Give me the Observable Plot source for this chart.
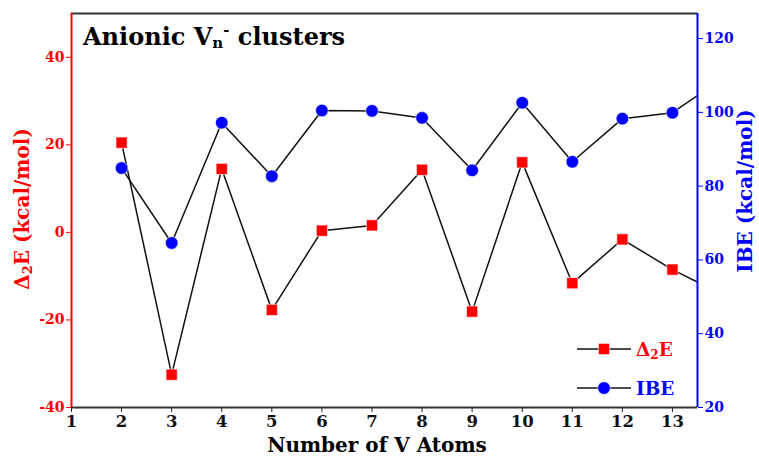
<!DOCTYPE html>
<html>
<head>
<meta charset="utf-8">
<script src="https://cdn.jsdelivr.net/npm/d3@7"></script>
<script src="https://cdn.jsdelivr.net/npm/@observablehq/plot@0.6"></script>
<style>
  html, body { margin: 0; padding: 0; background: #fff; }
  #chart svg { display: block; }
</style>
</head>
<body>
<div id="chart"></div>
<script>
// ---- data ----
const atoms = [2, 3, 4, 5, 6, 7, 8, 9, 10, 11, 12, 13, 14];
const deltaE = [20.5, -32.5, 14.5, -17.7, 0.4, 1.6, 14.3, -18.1, 16.0, -11.6, -1.6, -8.5, -14.2];
const ibe = [84.9, 64.6, 97.2, 82.7, 100.5, 100.4, 98.5, 84.3, 102.6, 86.6, 98.3, 99.9, 109.2];
const xTicks = [1, 2, 3, 4, 5, 6, 7, 8, 9, 10, 11, 12, 13];
const leftTicks = [-40, -20, 0, 20, 40];
const rightTicks = [20, 40, 60, 80, 100, 120];
const leftDomain = [-40, 50];
const rightDomain = [20, 126.8];
const xDomain = [1, 13.5];

// map IBE onto left-axis units
const toLeft = d3.scaleLinear().domain(rightDomain).range(leftDomain);
const fromLeft = toLeft.invert;

const dEData = atoms.map((n, i) => ({n, v: deltaE[i]}));
const ibeData = atoms.map((n, i) => ({n, v: toLeft(ibe[i])}));

const font = "'DejaVu Serif', serif";
const RED = "#ff0000", BLUE = "#0000ff";

const plot = Plot.plot({
  width: 759,
  height: 456,
  marginLeft: 71,
  marginRight: 62,
  marginTop: 13,
  marginBottom: 49,
  style: {fontFamily: font, fontWeight: "bold", fontSize: "15px", background: "#fff"},
  x: {domain: xDomain, label: null},
  y: {domain: leftDomain, label: null},
  marks: [
    Plot.line(dEData, {x: "n", y: "v", stroke: "#111", strokeWidth: 1.5, clip: true}),
    Plot.line(ibeData, {x: "n", y: "v", stroke: "#111", strokeWidth: 1.5, clip: true}),
    Plot.dot(dEData.filter(d => d.n <= 13), {x: "n", y: "v", symbol: "square", r: 6.3, fill: RED, stroke: "#fff", strokeWidth: 0.6}),
    Plot.dot(ibeData.filter(d => d.n <= 13), {x: "n", y: "v", symbol: "circle", r: 6.3, fill: BLUE, stroke: "#fff", strokeWidth: 0.6}),
    Plot.ruleY([leftDomain[1]], {stroke: "#333", strokeWidth: 2}),
    Plot.ruleY([leftDomain[0]], {stroke: "#333", strokeWidth: 2}),
    Plot.ruleX([xDomain[0]], {stroke: RED, strokeWidth: 2}),
    Plot.ruleX([xDomain[1]], {stroke: BLUE, strokeWidth: 2}),
    Plot.axisX({ticks: xTicks, tickFormat: d => d, tickSize: 5, tickPadding: 3, stroke: "#222", color: "#111", fontSize: 16.5, label: null}),
    Plot.axisY({anchor: "left", ticks: leftTicks, tickFormat: d => d, tickSize: 5, tickPadding: 2, stroke: RED, color: RED, fontSize: 14, label: null}),
    Plot.axisY({anchor: "right", ticks: rightTicks.map(toLeft), tickFormat: d => Math.round(fromLeft(d)), tickSize: 5, tickPadding: 2, stroke: BLUE, color: BLUE, fontSize: 14, label: null})
  ]
});

document.getElementById("chart").appendChild(plot);
const svg = d3.select(plot);

// title
const title = svg.append("text").attr("x", 83).attr("y", 45).attr("text-anchor", "start")
  .attr("font-family", font).attr("font-weight", "bold").attr("font-size", 24).attr("fill", "#000");
title.append("tspan").text("Anionic V");
title.append("tspan").attr("font-size", 15).attr("dy", 3).text("n");
title.append("tspan").attr("font-size", 15).attr("dy", -13).text("-");
title.append("tspan").attr("dy", 10).text(" clusters");

// x axis title
svg.append("text").attr("x", 377).attr("y", 452).attr("text-anchor", "middle")
  .attr("font-family", font).attr("font-weight", "bold").attr("font-size", 20).attr("fill", "#000")
  .text("Number of V Atoms");

// left axis title
const lt = svg.append("text").attr("transform", "translate(29,209) rotate(-90)").attr("text-anchor", "middle")
  .attr("font-family", font).attr("font-weight", "bold").attr("font-size", 20).attr("fill", RED);
lt.append("tspan").text("\u0394");
lt.append("tspan").attr("font-size", 13).attr("dy", 3).text("2");
lt.append("tspan").attr("dy", -3).text("E (kcal/mol)");

// right axis title
svg.append("text").attr("transform", "translate(752,191) rotate(-90)").attr("text-anchor", "middle")
  .attr("font-family", font).attr("font-weight", "bold").attr("font-size", 20).attr("fill", BLUE)
  .text("IBE (kcal/mol)");

// legend
const legend = [
  {label: "\u0394", sub: "2", rest: "E", color: RED, symbol: d3.symbolSquare, y: 349},
  {label: "IBE", sub: "", rest: "", color: BLUE, symbol: d3.symbolCircle, y: 388}
];
legend.forEach(l => {
  svg.append("line").attr("x1", 577).attr("x2", 631).attr("y1", l.y).attr("y2", l.y)
    .attr("stroke", "#111").attr("stroke-width", 1.5);
  svg.append("path").attr("d", d3.symbol(l.symbol, Math.PI * 6.3 * 6.3)())
    .attr("transform", `translate(604,${l.y})`).attr("fill", l.color).attr("stroke", "#fff").attr("stroke-width", 0.6);
  const t = svg.append("text").attr("x", 636).attr("y", l.y + 6.5).attr("text-anchor", "start")
    .attr("font-family", font).attr("font-weight", "bold").attr("font-size", 18.5).attr("fill", l.color);
  t.append("tspan").text(l.label);
  if (l.sub) {
    t.append("tspan").attr("font-size", 12).attr("dy", 3).text(l.sub);
    t.append("tspan").attr("dy", -3).text(l.rest);
  }
});
</script>
</body>
</html>
